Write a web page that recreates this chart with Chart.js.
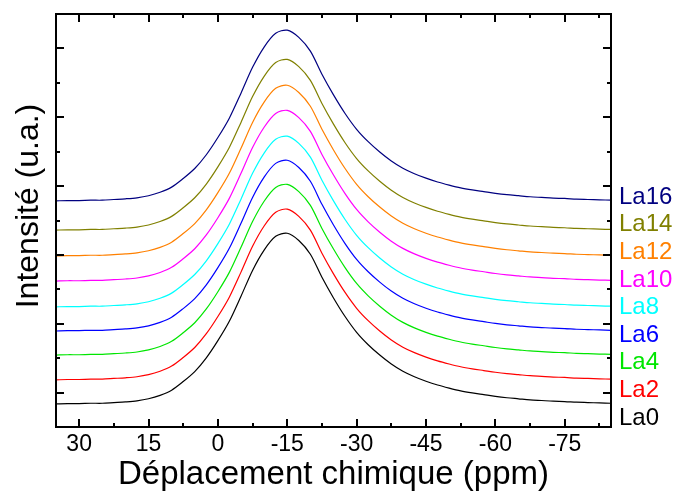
<!DOCTYPE html>
<html>
<head>
<meta charset="utf-8">
<title>Déplacement chimique</title>
<script src="https://cdn.jsdelivr.net/npm/chart.js@4"></script>
<style>
    html, body { margin: 0; padding: 0; background: #fff; }
    canvas { display: block; }
</style>
</head>
<body>
<canvas id="chart" width="679" height="496"></canvas>
<script>
// Chemical shift axis (ppm), shared by every spectrum
const ppm = [35, 32.5, 30, 27.5, 25, 22.5, 20, 17.5, 15, 12.5, 10, 7.5, 5, 2.5, 0,
    -2.5, -5, -7.5, -10, -12.5, -15, -17.5, -20, -22.5, -25, -27.5, -30, -32.5, -35,
    -37.5, -40, -42.5, -45, -47.5, -50, -52.5, -55, -57.5, -60, -62.5, -65, -67.5,
    -70, -72.5, -75, -77.5, -80, -82.5, -85];

// Stacked spectra (intensity, arbitrary units)
const la0 = [0.67, 0.68, 0.68, 0.69, 0.69, 0.71, 0.73, 0.76, 0.82, 0.92, 1.07, 1.32, 1.61, 2.01, 2.51, 3.08, 3.80, 4.55, 5.14, 5.54, 5.63, 5.42, 5.02, 4.35, 3.75, 3.21, 2.75, 2.39, 2.09, 1.83, 1.62, 1.46, 1.33, 1.22, 1.13, 1.05, 0.99, 0.94, 0.89, 0.85, 0.82, 0.79, 0.77, 0.75, 0.74, 0.72, 0.71, 0.70, 0.69];
const la2 = [1.37, 1.38, 1.38, 1.39, 1.39, 1.41, 1.43, 1.46, 1.52, 1.62, 1.77, 2.02, 2.31, 2.71, 3.21, 3.78, 4.50, 5.25, 5.84, 6.24, 6.33, 6.12, 5.72, 5.05, 4.45, 3.91, 3.45, 3.09, 2.79, 2.53, 2.32, 2.16, 2.03, 1.92, 1.83, 1.75, 1.69, 1.64, 1.59, 1.55, 1.52, 1.49, 1.47, 1.45, 1.44, 1.42, 1.41, 1.40, 1.39];
const la4 = [2.09, 2.10, 2.10, 2.11, 2.11, 2.13, 2.15, 2.18, 2.24, 2.34, 2.49, 2.74, 3.03, 3.43, 3.93, 4.50, 5.22, 5.97, 6.56, 6.96, 7.05, 6.84, 6.44, 5.77, 5.17, 4.63, 4.17, 3.81, 3.51, 3.25, 3.04, 2.88, 2.75, 2.64, 2.55, 2.47, 2.41, 2.36, 2.31, 2.27, 2.24, 2.21, 2.19, 2.17, 2.16, 2.14, 2.13, 2.12, 2.11];
const la6 = [2.79, 2.80, 2.80, 2.81, 2.81, 2.83, 2.85, 2.88, 2.94, 3.04, 3.19, 3.44, 3.73, 4.13, 4.63, 5.20, 5.92, 6.67, 7.26, 7.66, 7.75, 7.54, 7.14, 6.47, 5.87, 5.33, 4.87, 4.51, 4.21, 3.95, 3.74, 3.58, 3.45, 3.34, 3.25, 3.17, 3.11, 3.06, 3.01, 2.97, 2.94, 2.91, 2.89, 2.87, 2.86, 2.84, 2.83, 2.82, 2.81];
const la8 = [3.49, 3.50, 3.50, 3.51, 3.51, 3.53, 3.55, 3.58, 3.64, 3.74, 3.89, 4.14, 4.43, 4.83, 5.33, 5.90, 6.62, 7.37, 7.96, 8.36, 8.45, 8.24, 7.84, 7.17, 6.57, 6.03, 5.57, 5.21, 4.91, 4.65, 4.44, 4.28, 4.15, 4.04, 3.95, 3.87, 3.81, 3.76, 3.71, 3.67, 3.64, 3.61, 3.59, 3.57, 3.56, 3.54, 3.53, 3.52, 3.51];
const la10 = [4.24, 4.25, 4.25, 4.26, 4.26, 4.28, 4.30, 4.33, 4.39, 4.49, 4.64, 4.89, 5.18, 5.58, 6.08, 6.65, 7.37, 8.12, 8.71, 9.11, 9.20, 8.99, 8.59, 7.92, 7.32, 6.78, 6.32, 5.96, 5.66, 5.40, 5.19, 5.03, 4.90, 4.79, 4.70, 4.62, 4.56, 4.51, 4.46, 4.42, 4.39, 4.36, 4.34, 4.32, 4.31, 4.29, 4.28, 4.27, 4.26];
const la12 = [4.97, 4.98, 4.98, 4.99, 4.99, 5.01, 5.03, 5.06, 5.12, 5.22, 5.37, 5.62, 5.91, 6.31, 6.81, 7.38, 8.10, 8.85, 9.44, 9.84, 9.93, 9.72, 9.32, 8.65, 8.05, 7.51, 7.05, 6.69, 6.39, 6.13, 5.92, 5.76, 5.63, 5.52, 5.43, 5.35, 5.29, 5.24, 5.19, 5.15, 5.12, 5.09, 5.07, 5.05, 5.04, 5.02, 5.01, 5.00, 4.99];
const la14 = [5.72, 5.73, 5.73, 5.74, 5.74, 5.76, 5.78, 5.81, 5.87, 5.97, 6.12, 6.37, 6.66, 7.06, 7.56, 8.13, 8.85, 9.60, 10.19, 10.59, 10.68, 10.47, 10.07, 9.40, 8.80, 8.26, 7.80, 7.44, 7.14, 6.88, 6.67, 6.51, 6.38, 6.27, 6.18, 6.10, 6.04, 5.99, 5.94, 5.90, 5.87, 5.84, 5.82, 5.80, 5.79, 5.77, 5.76, 5.75, 5.74];
const la16 = [6.57, 6.58, 6.58, 6.59, 6.59, 6.61, 6.63, 6.66, 6.72, 6.82, 6.97, 7.22, 7.51, 7.91, 8.41, 8.98, 9.70, 10.45, 11.04, 11.44, 11.53, 11.32, 10.92, 10.25, 9.65, 9.11, 8.65, 8.29, 7.99, 7.73, 7.52, 7.36, 7.23, 7.12, 7.03, 6.95, 6.89, 6.84, 6.79, 6.75, 6.72, 6.69, 6.67, 6.65, 6.64, 6.62, 6.61, 6.60, 6.59];

const seriesNames = ['La0', 'La2', 'La4', 'La6', 'La8', 'La10', 'La12', 'La14', 'La16'];
const seriesValues = [la0, la2, la4, la6, la8, la10, la12, la14, la16];
const seriesColors = ['#000000', '#ff0000', '#00e600', '#0000ff', '#00ffff', '#ff00ff', '#ff8000', '#808000', '#000080'];

// Axis ticks
const xMajorTicks = [30, 15, 0, -15, -30, -45, -60, -75];
const xMinorTicks = [22.5, 7.5, -7.5, -22.5, -37.5, -52.5, -67.5, -82.5];
const yMajorTicks = [1, 3, 5, 7, 9, 11];
const yMinorTicks = [2, 4, 6, 8, 10];

const FONT = '"Liberation Sans", Arial, sans-serif';

// Frame round the plot with ticks pointing inwards
const framePlugin = {
    id: 'frame',
    afterDatasetsDraw(chart) {
        const ctx = chart.ctx;
        const area = chart.chartArea;
        const xs = chart.scales.x;
        const ys = chart.scales.y;

        ctx.save();
        ctx.strokeStyle = '#000';
        ctx.lineWidth = 2;
        ctx.strokeRect(area.left, area.top, area.right - area.left, area.bottom - area.top);

        ctx.beginPath();
        function xTick(v, len) {
            const px = Math.round(xs.getPixelForValue(v));
            ctx.moveTo(px, area.bottom);
            ctx.lineTo(px, area.bottom - len);
            ctx.moveTo(px, area.top);
            ctx.lineTo(px, area.top + len);
        }
        function yTick(v, len) {
            const py = Math.round(ys.getPixelForValue(v));
            ctx.moveTo(area.left, py);
            ctx.lineTo(area.left + len, py);
            ctx.moveTo(area.right, py);
            ctx.lineTo(area.right - len, py);
        }
        xMajorTicks.forEach(v => xTick(v, 8));
        xMinorTicks.forEach(v => xTick(v, 4));
        yMajorTicks.forEach(v => yTick(v, 8));
        yMinorTicks.forEach(v => yTick(v, 4));
        ctx.stroke();
        ctx.restore();
    }
};

// Series names stacked on the right, plus the vertical axis title
const labelsPlugin = {
    id: 'sideLabels',
    afterDraw(chart) {
        const ctx = chart.ctx;
        const area = chart.chartArea;

        ctx.save();
        ctx.font = '24px ' + FONT;
        ctx.textAlign = 'left';
        ctx.textBaseline = 'middle';
        seriesNames.forEach((name, i) => {
            ctx.fillStyle = seriesColors[i];
            ctx.fillText(name, area.right + 8, area.bottom - 9 - i * 27.6);
        });

        ctx.fillStyle = '#000';
        ctx.font = '32px ' + FONT;
        ctx.textAlign = 'center';
        ctx.translate(29, 206);
        ctx.rotate(-Math.PI / 2);
        ctx.fillText('Intensité (u.a.)', 0, 0);
        ctx.restore();
    }
};

function buildDatasets() {
    return seriesValues.map((values, i) => ({
        label: seriesNames[i],
        data: values.map((v, j) => ({ x: ppm[j], y: v })),
        borderColor: seriesColors[i],
        borderWidth: 1.2,
        pointRadius: 0,
        tension: 0.3,
        fill: false
    }));
}

document.addEventListener('DOMContentLoaded', function() {
    const ctx = document.getElementById('chart').getContext('2d');

    new Chart(ctx, {
        type: 'line',
        data: { datasets: buildDatasets() },
        options: {
            responsive: false,
            animation: false,
            devicePixelRatio: 1,
            layout: {
                padding: { left: 56, right: 68, top: 14, bottom: 0 }
            },
            plugins: {
                legend: { display: false },
                tooltip: { enabled: false }
            },
            scales: {
                x: {
                    type: 'linear',
                    reverse: true,
                    min: -85,
                    max: 35,
                    afterBuildTicks: scale => {
                        scale.ticks = xMajorTicks.map(v => ({ value: v }));
                    },
                    afterFit: scale => {
                        scale.height = 69;
                    },
                    grid: { display: false, drawTicks: false },
                    border: { display: false },
                    ticks: {
                        color: '#000',
                        padding: 4,
                        maxRotation: 0,
                        font: { size: 23, family: FONT }
                    },
                    title: {
                        display: true,
                        text: 'Déplacement chimique (ppm)',
                        color: '#000',
                        font: { size: 33, family: FONT },
                        padding: { top: 0, bottom: 1 }
                    }
                },
                y: {
                    display: false,
                    min: 0,
                    max: 12
                }
            }
        },
        plugins: [framePlugin, labelsPlugin]
    });
});
</script>
</body>
</html>
